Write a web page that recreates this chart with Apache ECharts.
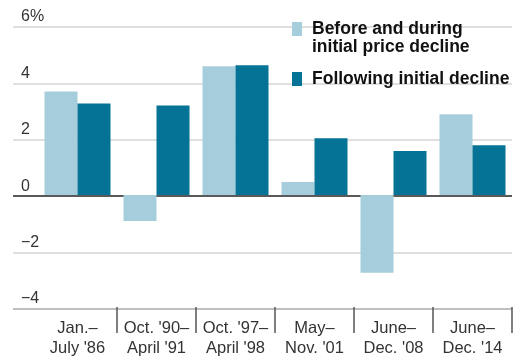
<!DOCTYPE html>
<html>
<head>
<meta charset="utf-8">
<script src="https://cdn.jsdelivr.net/npm/echarts@6/dist/echarts.min.js"></script>
<style>html,body{margin:0;padding:0;background:#fff}#c{width:514px;height:358px}</style>
</head>
<body>
<div id="c"></div>
<script>
const categories = ["Jan.–\nJuly '86", "Oct. '90–\nApril '91", "Oct. '97–\nApril '98", "May–\nNov. '01", "June–\nDec. '08", "June–\nDec. '14"];
const seriesNames = ["Before and during\ninitial price decline", "Following initial decline"];
const beforeValues = [3.7, -0.93, 4.6, 0.46, -2.78, 2.88];
const followingValues = [3.27, 3.2, 4.63, 2.03, 1.57, 1.78];
const yTicks = [-4, -2, 0, 2, 4, 6];

const FONT = "'Liberation Sans', Arial, sans-serif";
const chart = echarts.init(document.getElementById('c'), null, {renderer: 'canvas'});
const yMin = yTicks[0], yMax = yTicks[yTicks.length - 1];
chart.setOption({
  animation: false,
  backgroundColor: '#fff',
  grid: [
    {left: 13, right: 2, top: 27, bottom: 49},
    {left: 38, right: 2, top: 27, bottom: 49}
  ],
  legend: {
    left: 292, top: 2, padding: 0, orient: 'vertical', itemWidth: 10, itemHeight: 14, itemGap: 14,
    icon: 'rect', selectedMode: false,
    formatter: function (n) { return n.indexOf('\n') >= 0 ? '\n' + n : n; },
    textStyle: {fontFamily: FONT, fontSize: 17.5, fontWeight: 'bold', color: '#111', lineHeight: 18, padding: [0, 0, 0, 5]},
    data: seriesNames
  },
  xAxis: [
    {gridIndex: 0, type: 'value', min: 0, max: 1, show: false},
    {
      gridIndex: 1, type: 'category', data: categories,
      axisLine: {show: false, onZero: false},
      axisTick: {show: true, length: 26, lineStyle: {color: '#555', width: 1.5},
        interval: function (i) { return i !== 0; }},
      axisLabel: {fontFamily: FONT, fontSize: 16.5, color: '#333', lineHeight: 20, margin: 11, interval: 0}
    }
  ],
  yAxis: [
    {
      gridIndex: 0, type: 'value', min: yMin, max: yMax, interval: 2,
      axisLine: {show: false}, axisTick: {show: false},
      axisLabel: {inside: true, margin: 8, verticalAlign: 'bottom', padding: [0, 0, 2, 0],
        fontFamily: FONT, fontSize: 16, color: '#333',
        formatter: function (v) { return v === yMax ? v + '%' : (v < 0 ? '\u2212' + Math.abs(v) : String(v)); }},
      splitLine: {lineStyle: {color: ['#aaa', '#d4d4d4', '#222', '#d4d4d4', '#d4d4d4', '#d4d4d4'], width: 1.5}}
    },
    {gridIndex: 1, type: 'value', min: yMin, max: yMax, interval: 2, show: false, splitLine: {show: false}}
  ],
  series: [
    {name: seriesNames[0], type: 'bar', xAxisIndex: 1, yAxisIndex: 1, data: beforeValues,
      barWidth: 33, barGap: '0%', itemStyle: {color: '#a6cddb'}},
    {name: seriesNames[1], type: 'bar', xAxisIndex: 1, yAxisIndex: 1, data: followingValues,
      barWidth: 33, barGap: '0%', itemStyle: {color: '#047395'}}
  ]
});
</script>
</body>
</html>
